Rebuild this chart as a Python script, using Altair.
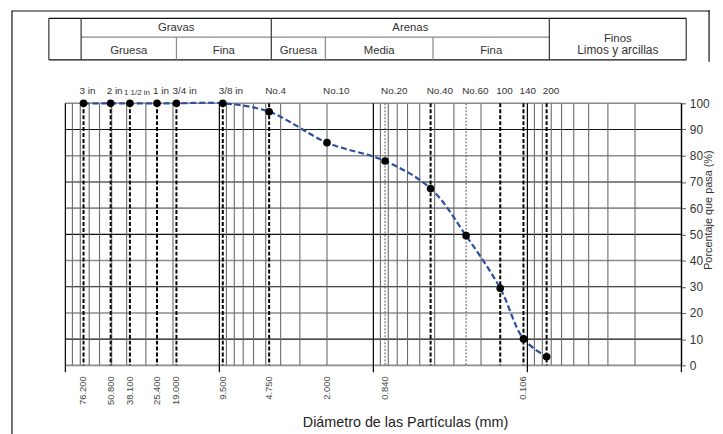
import altair as alt
import numpy as np
import pandas as pd

# ---------------- data ----------------
sieve_names = ["3 in", "2 in", "1 1/2 in", "1 in", "3/4 in", "3/8 in", "No.4",
               "No.10", "No.20", "No.40", "No.60", "100", "140", "200"]
sieve_sizes = [76.2, 50.8, 38.1, 25.4, 19.0, 9.5, 4.75, 2.0, 0.84, 0.425,
               0.25, 0.15, 0.106, 0.075]
percent_passing = [100, 100, 100, 100, 100, 100, 96.8, 85.0, 78.0, 67.5,
                   49.5, 29.4, 10.1, 3.3]
guide_kind = ["dashed", "dashed", "dashed", "dashed", "dashed", "dashed",
              "dashed", "none", "dotted", "dashed", "dotted", "dashed",
              "dashed", "dashed"]

size_label_values = [76.2, 50.8, 38.1, 25.4, 19.0, 9.5, 4.75, 2.0, 0.84, 0.106]
size_label_texts = ["76.200", "50.800", "38.100", "25.400", "19.000", "9.500",
                    "4.750", "2.000", "0.840", "0.106"]

pct_ticks = [0, 10, 20, 30, 40, 50, 60, 70, 80, 90, 100]
grid_decades = [0.01, 0.1, 1, 10]
grid_mantissas = [1, 2, 3, 4, 5, 6, 7, 8, 9]
top_decade = 100.0

# classification table (boundaries in mm)
table_left = 128.0
table_right = 0.0093
group_names = ["Gravas", "Arenas"]
group_from = [79.0, 4.6]
group_to = [4.6, 0.072]
sub_names = ["Gruesa", "Fina", "Gruesa", "Media", "Fina"]
sub_from = [79.0, 19.0, 4.6, 2.05, 0.41]
sub_to = [19.0, 4.6, 2.05, 0.41, 0.072]
fines_title = "Finos"
fines_sub = "Limos y arcillas"
fines_from = 0.072
fines_to = 0.0093

x_title = "Diámetro de las Partículas  (mm)"
y_title = "Porcentaje que pasa (%)"

# ---------------- layout / style ----------------
FONT = "Liberation Sans"
W, H = 623, 265
T_TOP, T_MID, T_BOT = -86, -67, -44

xs = alt.Scale(type="log", domain=[0.01, 100], reverse=True, nice=False)
ys = alt.Scale(domain=[0, 100], nice=False, zero=False)
yaxis = alt.Axis(orient="right", values=pct_ticks, grid=False, title=None,
                 domainColor="#555", tickColor="#555", tickSize=4,
                 labelFontSize=12, labelColor="#333", labelPadding=4,
                 labelFont=FONT)


def X(field):
    return alt.X(f"{field}:Q", scale=xs, axis=None)


def Y(field):
    return alt.Y(f"{field}:Q", scale=ys, axis=yaxis)


sieves = pd.DataFrame({"name": sieve_names, "size": sieve_sizes,
                       "pct": percent_passing, "kind": guide_kind})
hgrid = pd.DataFrame({"p": pct_ticks})
vg = [m * d for d in grid_decades for m in grid_mantissas] + [top_decade]
vgrid = pd.DataFrame({"g": vg,
                      "decade": [abs(np.log10(v) - round(np.log10(v))) < 1e-9 for v in vg]})
blabels = pd.DataFrame({"v": size_label_values, "t": size_label_texts})
one = pd.DataFrame({"k": [0]})

layers = []

# horizontal grid
layers.append(alt.Chart(hgrid).transform_filter("datum.p % 20 == 0")
              .mark_rule(color="#8c8c8c", strokeWidth=1.6).encode(y=Y("p")))
layers.append(alt.Chart(hgrid).transform_filter("datum.p % 20 == 10")
              .mark_rule(color="#111", strokeWidth=1.1).encode(y=Y("p")))

# vertical grid
layers.append(alt.Chart(vgrid).transform_filter("!datum.decade")
              .mark_rule(color="#6a6a6a", strokeWidth=1.1).encode(x=X("g")))
layers.append(alt.Chart(vgrid).transform_filter("datum.decade")
              .mark_rule(color="#000", strokeWidth=1.2).encode(x=X("g")))
# decade ticks below the axis
layers.append(alt.Chart(vgrid).transform_filter("datum.decade")
              .mark_rule(color="#000", strokeWidth=1.2)
              .encode(x=X("g"), y=alt.value(H), y2=alt.value(H + 7)))

# sieve guide lines
layers.append(alt.Chart(sieves).transform_filter("datum.kind == 'dashed'")
              .mark_rule(color="#000", strokeWidth=2, strokeDash=[4, 2])
              .encode(x=X("size")))
layers.append(alt.Chart(sieves).transform_filter("datum.kind == 'dotted'")
              .mark_rule(color="#555", strokeWidth=1, strokeDash=[2, 1.5])
              .encode(x=X("size")))

# gradation curve
layers.append(alt.Chart(sieves).mark_line(color="#2b4f9e", strokeWidth=2.2,
                                          strokeDash=[6, 3], interpolate="catmull-rom")
              .encode(x=X("size"), y=Y("pct"),
                      order=alt.Order("size:Q", sort="descending")))
layers.append(alt.Chart(sieves).mark_circle(color="#000", opacity=1, size=60)
              .encode(x=X("size"), y=Y("pct")))

# sieve names on top
layers.append(alt.Chart(sieves).transform_filter("datum.name != '1 1/2 in'")
              .mark_text(font=FONT, fontSize=10, color="#333", dx=-4,
                         align="left", baseline="middle")
              .encode(x=X("size"), text="name:N", y=alt.value(-12)))
layers.append(alt.Chart(sieves).transform_filter("datum.name == '1 1/2 in'")
              .mark_text(font=FONT, fontSize=8, color="#333", dx=-6,
                         align="left", baseline="middle")
              .encode(x=X("size"), text="name:N", y=alt.value(-10)))

# size labels below
layers.append(alt.Chart(blabels)
              .mark_text(font=FONT, fontSize=9.5, color="#444", angle=270,
                         align="right", baseline="middle")
              .encode(x=X("v"), text="t:N", y=alt.value(H + 11)))

# axis titles
layers.append(alt.Chart(one).mark_text(font=FONT, fontSize=14.5, color="#222")
              .encode(x=alt.value(344), y=alt.value(323), text=alt.value(x_title)))
layers.append(alt.Chart(one).mark_text(font=FONT, fontSize=11, color="#333", angle=270)
              .encode(x=alt.value(651), y=alt.value(108), text=alt.value(y_title)))

# ---------------- classification table ----------------
outer = pd.DataFrame({"a": [table_left], "b": [table_right]})
for yy in (T_TOP, T_BOT):
    layers.append(alt.Chart(outer).mark_rule(color="#111", strokeWidth=1.2)
                  .encode(x=X("a"), x2="b", y=alt.value(yy)))
mid = pd.DataFrame({"a": [group_from[0]], "b": [group_to[-1]]})
layers.append(alt.Chart(mid).mark_rule(color="#888", strokeWidth=1.2)
              .encode(x=X("a"), x2="b", y=alt.value(T_MID)))
full_v = pd.DataFrame({"v": [table_left, group_from[0]] + group_to + [table_right]})
layers.append(alt.Chart(full_v).mark_rule(color="#333", strokeWidth=1.2)
              .encode(x=X("v"), y=alt.value(T_TOP), y2=alt.value(T_BOT)))
half_v = pd.DataFrame({"v": [t for t in sub_to if t not in group_to]})
layers.append(alt.Chart(half_v).mark_rule(color="#888", strokeWidth=1.2)
              .encode(x=X("v"), y=alt.value(T_MID), y2=alt.value(T_BOT)))

groups = pd.DataFrame({"t": group_names,
                       "c": np.sqrt(np.array(group_from) * np.array(group_to))})
subs = pd.DataFrame({"t": sub_names,
                     "c": np.sqrt(np.array(sub_from) * np.array(sub_to))})
fines = pd.DataFrame({"t": [fines_title, fines_sub],
                      "c": [np.sqrt(fines_from * fines_to)] * 2,
                      "row": [0, 1]})
layers.append(alt.Chart(groups).mark_text(font=FONT, fontSize=11.5, color="#333")
              .encode(x=X("c"), text="t:N", y=alt.value(-76)))
layers.append(alt.Chart(subs).mark_text(font=FONT, fontSize=11.5, color="#333")
              .encode(x=X("c"), text="t:N", y=alt.value(-53)))
layers.append(alt.Chart(fines).transform_filter("datum.row == 0")
              .mark_text(font=FONT, fontSize=11.5, color="#333")
              .encode(x=X("c"), text="t:N", y=alt.value(-65)))
layers.append(alt.Chart(fines).transform_filter("datum.row == 1")
              .mark_text(font=FONT, fontSize=12, color="#333")
              .encode(x=X("c"), text="t:N", y=alt.value(-54)))

# page frame
layers.append(alt.Chart(one).mark_rule(color="#111", strokeWidth=1.2)
              .encode(x=alt.value(-54), y=alt.value(-94), y2=alt.value(340)))
layers.append(alt.Chart(one).mark_rule(color="#111", strokeWidth=1.2)
              .encode(x=alt.value(-54), x2=alt.value(652), y=alt.value(-93.4)))
layers.append(alt.Chart(one).mark_rule(color="#111", strokeWidth=1.2)
              .encode(x=alt.value(651), y=alt.value(-94), y2=alt.value(-42)))

chart = (alt.layer(*layers)
         .properties(width=W, height=H, background="white",
                     autosize=alt.AutoSizeParams(type="none"),
                     padding={"left": 58, "top": 94, "right": 34, "bottom": 67})
         .configure_view(strokeWidth=0))

chart.save("out.html", embed_options={"renderer": "svg", "actions": False})
